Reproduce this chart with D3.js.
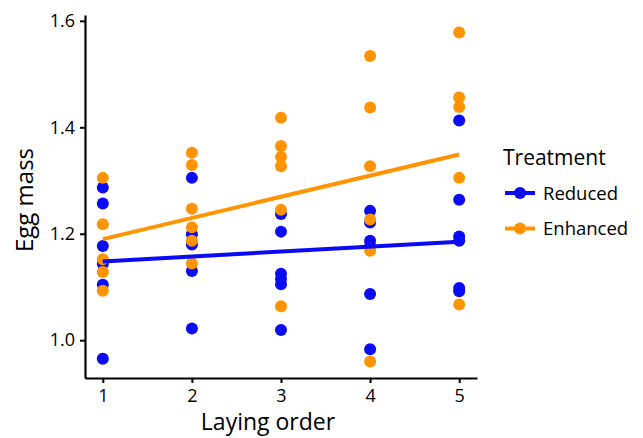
<!DOCTYPE html>
<html>
<head>
<meta charset="utf-8">
<script src="https://cdn.jsdelivr.net/npm/d3@7"></script>
<style>
  body { margin: 0; background: #fff; }
  text { font-family: "Open Sans", "Noto Sans", sans-serif; fill: #000; }
</style>
</head>
<body>
<svg id="chart"></svg>
<script>
// laying order (x) and egg mass (y)
var reducedX = [1,1,1,1,1,1, 2,2,2,2,2, 3,3,3,3,3,3, 4,4,4,4,4,4, 5,5,5,5,5,5];
var reducedY = [1.287,1.257,1.177,1.143,1.104,0.965,
                1.305,1.199,1.180,1.130,1.022,
                1.237,1.204,1.125,1.115,1.105,1.019,
                1.243,1.221,1.187,1.177,1.087,0.983,
                1.413,1.264,1.195,1.187,1.098,1.092];
var enhancedX = [1,1,1,1,1, 2,2,2,2,2,2, 3,3,3,3,3,3, 4,4,4,4,4,4, 5,5,5,5,5];
var enhancedY = [1.305,1.218,1.152,1.128,1.093,
                 1.352,1.329,1.247,1.212,1.187,1.144,
                 1.418,1.365,1.344,1.327,1.245,1.064,
                 1.534,1.437,1.327,1.227,1.168,0.960,
                 1.578,1.456,1.438,1.305,1.067];
// fitted lines, value at order 1 and order 5
var fitX = [1, 5];
var fitReduced = [1.148, 1.185];
var fitEnhanced = [1.190, 1.349];

var xTicks = [1, 2, 3, 4, 5];
var yTicks = [1.0, 1.2, 1.4, 1.6];
var groups = ["Reduced", "Enhanced"];
var colors = ["#0a0af5", "#ff9400"];

var W = 643, H = 438;
var mLeft = 85, mRight = 477, mTop = 15, mBottom = 378;

var svg = d3.select("#chart").attr("width", W).attr("height", H);

var x = d3.scaleLinear().domain([0.8, 5.2]).range([mLeft, mRight]);
var y = d3.scaleLinear().domain([0.929, 1.611]).range([mBottom, mTop]);

// axes
var gx = svg.append("g").attr("transform", "translate(0," + mBottom + ")")
  .call(d3.axisBottom(x).tickValues(xTicks).tickFormat(d3.format("d")).tickSize(5).tickSizeOuter(0));
var gy = svg.append("g").attr("transform", "translate(" + mLeft + ",0)")
  .call(d3.axisLeft(y).tickValues(yTicks).tickFormat(d3.format(".1f")).tickSize(5).tickSizeOuter(0));

[gx, gy].forEach(function(g) {
  g.select(".domain").attr("stroke", "#000").attr("stroke-width", 2.2);
  g.selectAll(".tick line").attr("stroke", "#000").attr("stroke-width", 2);
  g.selectAll(".tick text").style("font-size", "18px").attr("fill", "#000");
});
gx.selectAll(".tick text").attr("dy", "0.9em");
gy.selectAll(".tick text").attr("dx", "-2px");

svg.append("text").attr("x", 268).attr("y", 430)
  .attr("text-anchor", "middle").style("font-size", "23px").text("Laying order");
svg.append("text")
  .attr("transform", "translate(33,200) rotate(-90)")
  .attr("text-anchor", "middle").style("font-size", "24px").text("Egg mass");

// points
var pts = [];
reducedX.forEach(function(d, i) { pts.push({x: d, y: reducedY[i], g: 0}); });
enhancedX.forEach(function(d, i) { pts.push({x: d, y: enhancedY[i], g: 1}); });

svg.append("g").selectAll("circle").data(pts).enter().append("circle")
  .attr("cx", function(d) { return x(d.x); })
  .attr("cy", function(d) { return y(d.y); })
  .attr("r", 6)
  .attr("fill", function(d) { return colors[d.g]; });

// fitted lines
var line = d3.line().x(function(d) { return x(d[0]); }).y(function(d) { return y(d[1]); });
[fitReduced, fitEnhanced].forEach(function(f, i) {
  svg.append("path")
    .attr("d", line(fitX.map(function(v, j) { return [v, f[j]]; })))
    .attr("stroke", colors[i]).attr("stroke-width", 4).attr("fill", "none");
});

// legend
var lg = svg.append("g").attr("transform", "translate(503,0)");
lg.append("text").attr("x", 0).attr("y", 165).style("font-size", "21px").text("Treatment");
groups.forEach(function(g, i) {
  var yy = 193 + i * 35.5;
  lg.append("line").attr("x1", 2).attr("x2", 32).attr("y1", yy).attr("y2", yy)
    .attr("stroke", colors[i]).attr("stroke-width", 4);
  lg.append("circle").attr("cx", 17).attr("cy", yy).attr("r", 6).attr("fill", colors[i]);
  lg.append("text").attr("x", 40).attr("y", yy).attr("dy", "0.36em")
    .style("font-size", "18.5px").text(g);
});
</script>
</body>
</html>
